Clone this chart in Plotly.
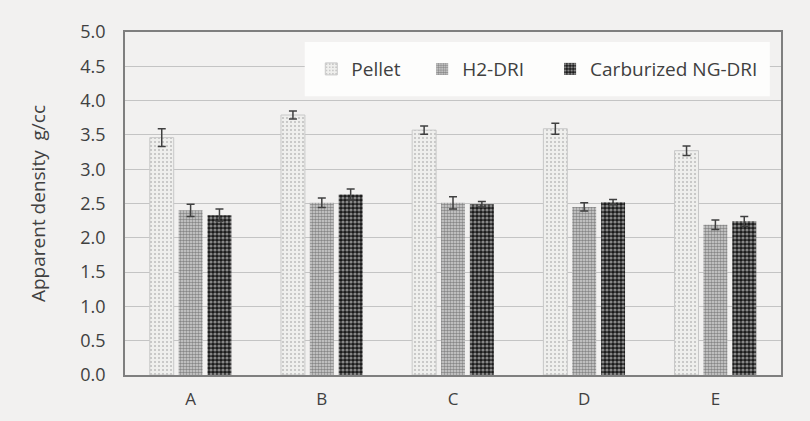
import plotly.graph_objects as go

# 시료 구분
samples = ['A', 'B', 'C', 'D', 'E']

# 겉보기 밀도 (g/cc)
pellet = [3.46, 3.79, 3.57, 3.59, 3.27]
pellet_err = [0.13, 0.06, 0.06, 0.08, 0.07]

h2_dri = [2.40, 2.51, 2.51, 2.45, 2.19]
h2_dri_err = [0.09, 0.07, 0.09, 0.06, 0.07]

ng_dri = [2.33, 2.63, 2.49, 2.52, 2.24]
ng_dri_err = [0.09, 0.08, 0.04, 0.04, 0.07]

font_name = 'Open Sans'
text_color = '#404040'

fig = go.Figure()

# Pellet
fig.add_trace(go.Bar(x=samples, y=pellet, name='Pellet', legend='legend',
                     error_y=dict(type='data', array=pellet_err, color=text_color,
                                  thickness=1.5, width=4),
                     marker=dict(color='#eeeeec',
                                 line=dict(color='#c8c8c8', width=1),
                                 pattern=dict(shape='.', fgcolor='#8a8a8a', bgcolor='#efefed',
                                              size=4, solidity=0.2))))

# H2-DRI
fig.add_trace(go.Bar(x=samples, y=h2_dri, name='H2-DRI', legend='legend2',
                     error_y=dict(type='data', array=h2_dri_err, color=text_color,
                                  thickness=1.5, width=4),
                     marker=dict(color='#9a9a9a',
                                 line=dict(color='#9a9a9a', width=0),
                                 pattern=dict(shape='.', fgcolor='#3a3a3a', bgcolor='#d4d4d4',
                                              size=3, solidity=0.55))))

# Carburized NG-DRI
fig.add_trace(go.Bar(x=samples, y=ng_dri, name='Carburized NG-DRI', legend='legend3',
                     error_y=dict(type='data', array=ng_dri_err, color=text_color,
                                  thickness=1.5, width=4),
                     marker=dict(color='#222222',
                                 line=dict(color='#222222', width=0),
                                 pattern=dict(shape='.', fgcolor='#f4f4f4', bgcolor='#1a1a1a',
                                              size=4, solidity=0.5))))

# 범례 배경 박스 (격자선 위에 그림)
fig.add_shape(type='rect', xref='paper', yref='paper',
              x0=0.274, x1=0.983, y0=0.813, y1=0.971,
              fillcolor='#fdfdfc', line=dict(width=0), layer='above')

legend_style = dict(orientation='h', xanchor='left', y=0.892, yanchor='middle',
                    bgcolor='rgba(0,0,0,0)', borderwidth=0,
                    font=dict(size=19, color=text_color), itemwidth=30)

fig.update_layout(
    width=810,
    height=421,
    margin=dict(l=125, r=29, t=32, b=46),
    paper_bgcolor='#f2f1f0',
    plot_bgcolor='#f2f1f0',
    font=dict(family=font_name, size=18, color=text_color),
    barmode='group',
    bargap=0.34,
    bargroupgap=0.17,
    showlegend=True,
    legend=dict(x=0.284, **legend_style),
    legend2=dict(x=0.453, **legend_style),
    legend3=dict(x=0.648, **legend_style),
)

fig.update_xaxes(showline=True, linecolor='#7f7f7f', linewidth=1.5, mirror=True,
                 ticks='', showgrid=False, tickfont=dict(size=17), ticklabelstandoff=8)
fig.update_yaxes(range=[0, 5], dtick=0.5, tickformat='.1f',
                 showline=True, linecolor='#7f7f7f', linewidth=1.5, mirror=True,
                 showgrid=True, gridcolor='#c4c4c4', gridwidth=1,
                 zeroline=False, ticks='', tickfont=dict(size=18), ticklabelstandoff=14,
                 title=dict(text='Apparent density  g/cc', font=dict(size=19), standoff=30))

# body 여백 제거
fig.write_html('out.html', config={'displayModeBar': False},
               post_script="document.body.style.margin='0';")
